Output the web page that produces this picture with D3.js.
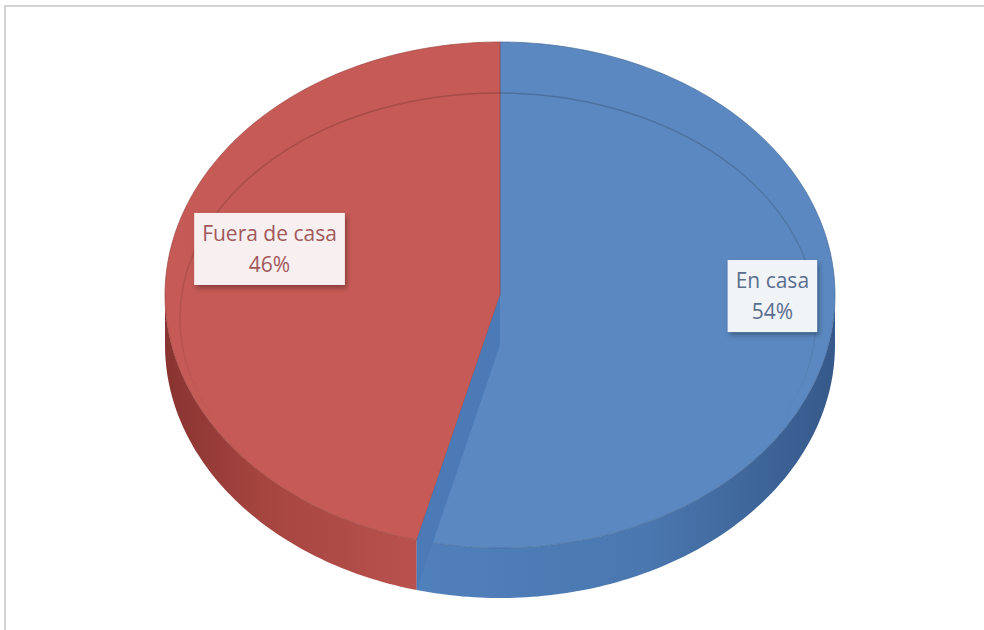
<!DOCTYPE html>
<html>
<head>
<meta charset="utf-8">
<script src="https://cdn.jsdelivr.net/npm/d3@7"></script>
<style>
  html, body { margin: 0; padding: 0; background: #ffffff; }
  svg { display: block; }
</style>
</head>
<body>
<svg id="chart" width="984" height="630"></svg>
<script>
// ---- data ----
const categories = ["En casa", "Fuera de casa"];
const values = [54, 46];
const percentLabels = ["54%", "46%"];
const topColors = ["#5b88c0", "#c55a56"];
const sideColorsLight = ["#5080bb", "#b9524e"];
const sideColorsDark = ["#36598a", "#8a3431"];
const textColors = ["#5a6d8e", "#a2585b"];

// ---- layout ----
const W = 984, H = 630;
const cx = 500, cy = 295, rx = 335, ry = 253, depth = 50;
// label placement as fractions of the ellipse radii
const labelFrac = [[0.813, 0.004], [-0.688, -0.182]];

const svg = d3.select("#chart");
const defs = svg.append("defs");

// chart frame (only left and top edges visible in the picture)
svg.append("rect")
  .attr("x", 5).attr("y", 6).attr("width", W + 20).attr("height", H + 20)
  .attr("fill", "#ffffff").attr("stroke", "#d3d3d3").attr("stroke-width", 2);

const pie = d3.pie().sort(null).startAngle(0).endAngle(2 * Math.PI);
const arcs = pie(values);

// projection scales for the tilted disc
const sx = d3.scaleLinear().domain([-1, 1]).range([cx - rx, cx + rx]);
const sy = d3.scaleLinear().domain([-1, 1]).range([cy - ry, cy + ry]);
const pt = (a, dz = 0) => [sx(Math.sin(a)), sy(-Math.cos(a)) + dz];

function arcPoints(a0, a1, dz = 0) {
  const n = Math.max(2, Math.ceil((a1 - a0) / (Math.PI / 180)));
  return d3.range(n + 1).map(i => pt(a0 + (a1 - a0) * i / n, dz));
}
const line = d3.line();

// gradients for sides
arcs.forEach((d, i) => {
  const g = defs.append("linearGradient")
    .attr("id", "side" + i)
    .attr("gradientUnits", "userSpaceOnUse")
    .attr("x1", i === 0 ? 420 : 170).attr("y1", 0)
    .attr("x2", i === 0 ? 835 : 420).attr("y2", 0);
  if (i === 0) {
    g.append("stop").attr("offset", 0).attr("stop-color", sideColorsLight[i]);
    g.append("stop").attr("offset", 0.55).attr("stop-color", "#4a77af");
    g.append("stop").attr("offset", 1).attr("stop-color", sideColorsDark[i]);
  } else {
    g.append("stop").attr("offset", 0).attr("stop-color", sideColorsDark[i]);
    g.append("stop").attr("offset", 0.35).attr("stop-color", "#a5443f");
    g.append("stop").attr("offset", 1).attr("stop-color", sideColorsLight[i]);
  }
});

// sides (visible front half only)
arcs.forEach((d, i) => {
  const a0 = Math.max(d.startAngle, Math.PI / 2);
  const a1 = Math.min(d.endAngle, 3 * Math.PI / 2);
  if (a1 <= a0) return;
  const top = arcPoints(a0, a1, 0);
  const bot = arcPoints(a0, a1, depth).reverse();
  svg.append("path")
    .attr("d", line(top.concat(bot)) + "Z")
    .attr("fill", `url(#side${i})`);
});

// top faces
arcs.forEach((d, i) => {
  const pts = [[cx, cy]].concat(arcPoints(d.startAngle, d.endAngle, 0));
  svg.append("path")
    .attr("d", line(pts) + "Z")
    .attr("fill", topColors[i])
    .attr("stroke", d3.color(topColors[i]).darker(0.6))
    .attr("stroke-width", 1)
    .attr("stroke-opacity", 0.7);
});

// radial wall visible between the two slices
{
  const a = arcs[0].endAngle;
  const p = pt(a);
  const wall = [[cx, cy], p, [p[0], p[1] + depth], [cx, cy + depth]];
  defs.append("clipPath").attr("id", "discClip")
    .append("path")
    .attr("d", line(arcPoints(0, 2 * Math.PI, 0).concat(arcPoints(Math.PI / 2, 3 * Math.PI / 2, depth))) + "Z");
  svg.append("path")
    .attr("d", line(wall) + "Z")
    .attr("fill", "#4b7ab6")
    .attr("clip-path", "url(#discClip)");
}

// bevel line on the top face (fades out toward the front)
defs.append("clipPath").attr("id", "topClip")
  .append("path").attr("d", line(arcPoints(0, 2 * Math.PI, 0)) + "Z");
const bg = defs.append("linearGradient").attr("id", "bevelFade")
  .attr("gradientUnits", "userSpaceOnUse")
  .attr("x1", 0).attr("y1", 90).attr("x2", 0).attr("y2", 430);
bg.append("stop").attr("offset", 0).attr("stop-color", "#000").attr("stop-opacity", 0.17);
bg.append("stop").attr("offset", 0.6).attr("stop-color", "#000").attr("stop-opacity", 0.1);
bg.append("stop").attr("offset", 1).attr("stop-color", "#000").attr("stop-opacity", 0);
svg.append("ellipse")
  .attr("cx", cx - 2).attr("cy", cy + 23).attr("rx", rx - 17).attr("ry", ry - 28)
  .attr("fill", "none")
  .attr("stroke", "url(#bevelFade)").attr("stroke-width", 1.5)
  .attr("clip-path", "url(#topClip)");

// label shadow filter
const f = defs.append("filter").attr("id", "shadow")
  .attr("x", "-20%").attr("y", "-20%").attr("width", "140%").attr("height", "150%");
f.append("feDropShadow").attr("dx", 2).attr("dy", 3).attr("stdDeviation", 2.5)
  .attr("flood-color", "#000").attr("flood-opacity", 0.35);

// labels
const lineH = 31;
arcs.forEach((d, i) => {
  const lx = sx(labelFrac[i][0]);
  const ly = sy(labelFrac[i][1]);
  const g = svg.append("g");
  const rect = g.append("rect").attr("filter", "url(#shadow)")
    .attr("fill", "#ffffff").attr("fill-opacity", 0.9);
  const t = g.append("text")
    .attr("text-anchor", "middle")
    .attr("font-family", "'Open Sans', Lato, sans-serif")
    .attr("font-size", 21)
    .attr("fill", textColors[i]);
  t.append("tspan").attr("x", lx).attr("y", ly - 8).text(categories[i]);
  t.append("tspan").attr("x", lx).attr("y", ly - 8 + lineH).text(percentLabels[i]);
  const bb = t.node().getBBox();
  const bw = bb.width + 16, bh = 72;
  rect.attr("x", lx - bw / 2).attr("y", ly - bh / 2).attr("width", bw).attr("height", bh);
});
</script>
</body>
</html>
